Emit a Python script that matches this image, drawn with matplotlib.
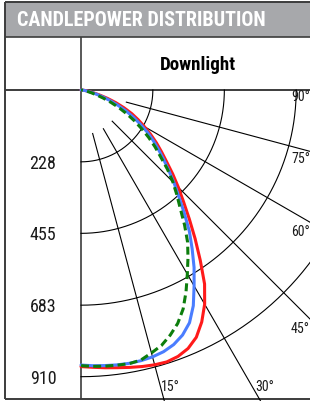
import numpy as np
import matplotlib
matplotlib.use("Agg")
import matplotlib.pyplot as plt
from matplotlib import font_manager

# ---------------- data ----------------
angles_deg = [0, 2.5, 5, 7.5, 10, 12.5, 15, 17.5, 20, 22.5, 25, 27.5, 30, 32.5, 35, 37.5,
              40, 42.5, 45, 47.5, 50, 52.5, 55, 57.5, 60, 62.5, 65, 67.5, 70, 72.5, 75,
              77.5, 80, 82.5, 85, 87.5, 90]
red_cd = [878, 881, 885, 889, 894, 899, 903, 905, 900, 888, 866, 830, 785, 730, 660, 595,
          535, 482, 437, 395, 355, 322, 292, 262, 232, 205, 178, 148, 118, 88, 60,
          40, 26, 15, 8, 3, 0]
blue_cd = [873, 876, 878, 880, 881, 880, 877, 871, 860, 842, 815, 772, 718, 668, 615, 565,
           510, 460, 418, 378, 342, 310, 280, 250, 218, 188, 158, 127, 98, 72, 50,
           33, 20, 11, 5, 2, 0]
green_cd = [875, 878, 880, 881, 882, 878, 864, 850, 828, 802, 767, 722, 675, 632, 590, 540,
            490, 450, 412, 372, 330, 296, 262, 228, 196, 164, 133, 103, 75, 52, 34,
            21, 12, 6, 3, 1, 0]
ring_values = [228, 455, 683, 910]
ring_labels = ["228", "455", "683", "910"]
spoke_angles = [15, 30, 45, 60, 75]
spoke_labels = ["15°", "30°", "45°", "60°", "75°", "90°"]
title = "CANDLEPOWER DISTRIBUTION"
subtitle = "Downlight"

# ---------------- fonts ----------------
avail = sorted({f.name for f in font_manager.fontManager.ttflist})
cond = [n for n in avail if ("Condensed" in n or "Narrow" in n) and "CJK" not in n]
pref = [n for n in ["Liberation Sans Narrow", "Roboto Condensed", "Open Sans Condensed"] if n in avail]
base = pref[0] if pref else (cond[0] if cond else ("Roboto" if "Roboto" in avail else "DejaVu Sans"))
FAM = [base, "DejaVu Sans"]

W, H = 310, 402
fig = plt.figure(figsize=(W / 100, H / 100), dpi=100)
fig.patch.set_facecolor("white")
renderer = fig.canvas.get_renderer()


def fit_text(t, target_w, max_scale=1.15):
    bb = t.get_window_extent(renderer=renderer)
    s = min(target_w / bb.width, max_scale)
    t.set_fontsize(t.get_fontsize() * s)


# ---------------- frame / table layer ----------------
fr = fig.add_axes([0, 0, 1, 1])
fr.set_xlim(0, W)
fr.set_ylim(H, 0)
fr.axis("off")

edge = "#3c3c3c"
fr.add_patch(plt.Rectangle((5, 3), W, 34.5, facecolor="#a7a8ab", edgecolor="none", zorder=1))
for (xs, ys, lw) in [([5, W], [3, 3], 1.4), ([5, W], [37.5, 37.5], 1.2),
                     ([5, W], [90.8, 90.8], 1.4), ([5, W], [400.3, 400.3], 1.4),
                     ([5, 5], [3, 400.3], 1.4), ([81, 81], [37.5, 400.3], 1.2)]:
    fr.plot(xs, ys, color=edge, lw=lw, zorder=3, solid_capstyle="butt")

t1 = fr.text(17, 20.5, title, color="white", fontsize=13.2, fontweight="bold",
             family=FAM, ha="left", va="center", zorder=4)
fit_text(t1, 255, 1.1)
t2 = fr.text(197.5, 65.5, subtitle, color="black", fontsize=12.2, fontweight="bold",
             family=FAM, ha="center", va="center", zorder=4)
fit_text(t2, 81, 1.12)

# ---------------- polar layer ----------------
ox, oy = 81, 91                 # origin in image pixels
px_per_cd = (377.7 - 91) / 910  # radial scale
rmax = 1300
R = rmax * px_per_cd
pa = fig.add_axes([(ox - R) / W, (H - oy - R) / H, 2 * R / W, 2 * R / H],
                  projection="polar", zorder=2)
pa.set_theta_zero_location("S")
pa.set_theta_direction(1)
pa.set_rlim(0, rmax)
pa.set_axis_off()
pa.patch.set_alpha(0)

th = np.radians(np.linspace(0, 90, 200))
for rv in ring_values:
    pa.plot(th, np.full_like(th, rv), color="black", lw=0.8)
spoke_start = [143, 142, 140, 222, 149]
for a, s in zip(spoke_angles, spoke_start):
    pa.plot([np.radians(a)] * 2, [s, rmax], color="black", lw=0.8)

ang = np.radians(angles_deg)
pa.plot(ang, red_cd, color="#ff1a1a", lw=2.2, solid_capstyle="round",
        solid_joinstyle="round", zorder=5)
pa.plot(ang, blue_cd, color="#4a7dff", lw=2.2, solid_capstyle="round",
        solid_joinstyle="round", zorder=6)
pa.plot(ang, green_cd, color="#0c7d0c", lw=2.2, ls=(0, (2.6, 1.4)), zorder=7)

# radial value labels in left column
for rv, lab in zip(ring_values, ring_labels):
    t = fr.text(43, oy + rv * px_per_cd + 1, lab, fontsize=13, family=FAM,
                ha="center", va="center", color="#1a1a1a", zorder=4)
    fit_text(t, 28, 1.0)

# angle labels along chart edges
lab_pos = {"15°": (161, 387), "30°": (255, 387), "45°": (291, 329),
           "60°": (291, 232), "75°": (291, 159), "90°": (291, 97)}
for lab in spoke_labels:
    x, y = lab_pos[lab]
    fr.text(x, y, lab, fontsize=10, family=FAM, ha="left", va="center",
            color="#1a1a1a", zorder=4)

fig.savefig("out.png", dpi=100)
